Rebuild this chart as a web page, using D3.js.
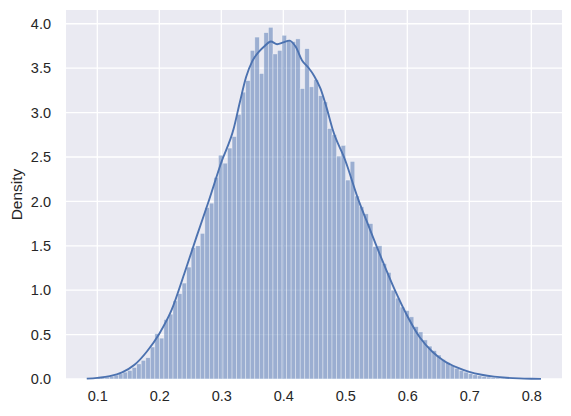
<!DOCTYPE html>
<html>
<head>
<meta charset="utf-8">
<script src="https://cdn.jsdelivr.net/npm/d3@7"></script>
<style>
  body { margin: 0; background: #fff; }
  text { font-family: "Liberation Sans", Arial, sans-serif; fill: #262626; }
</style>
</head>
<body>
<svg width="571" height="416"></svg>
<script>
// ************** Data *****************

// histogram: first bin edge, bin width, density per bin
const binStart = 0.0829;
const binWidth = 0.007327;
const densities = [
  0.003, 0.005, 0.01, 0.015, 0.022, 0.032, 0.044, 0.059, 0.077, 0.096,
  0.13, 0.17, 0.21, 0.24, 0.36, 0.51, 0.46, 0.67, 0.73, 0.88,
  0.96, 1.08, 1.26, 1.48, 1.50, 1.64, 1.93, 1.98, 2.27, 2.52,
  2.43, 2.60, 2.73, 2.98, 3.23, 3.36, 3.70, 3.85, 3.44, 3.90,
  3.96, 3.66, 3.70, 3.87, 3.82, 3.80, 3.83, 3.27, 3.72, 3.29,
  3.37, 3.19, 3.12, 2.82, 2.75, 2.51, 2.63, 2.24, 2.45, 2.06,
  1.94, 1.86, 1.75, 1.49, 1.50, 1.30, 1.20, 1.00, 0.91, 0.81,
  0.77, 0.70, 0.59, 0.53, 0.44, 0.37, 0.32, 0.27, 0.22, 0.185,
  0.15, 0.12, 0.096, 0.077, 0.06, 0.047, 0.036, 0.028, 0.022, 0.017,
  0.013, 0.01, 0.008, 0.006, 0.005, 0.004, 0.003, 0.002, 0.002, 0.001
];

// kde curve
const kdeX = [0.083, 0.10, 0.12, 0.14, 0.16, 0.18, 0.20, 0.22, 0.24, 0.26,
  0.28, 0.30, 0.32, 0.33, 0.34, 0.35, 0.36, 0.37, 0.38, 0.39,
  0.40, 0.41, 0.42, 0.43, 0.44, 0.45, 0.46, 0.47, 0.48, 0.50,
  0.52, 0.54, 0.56, 0.58, 0.60, 0.62, 0.64, 0.66, 0.68, 0.70,
  0.72, 0.74, 0.76, 0.78, 0.80, 0.8156];
const kdeY = [0.004, 0.013, 0.032, 0.075, 0.16, 0.31, 0.51, 0.78, 1.18, 1.60,
  2.01, 2.44, 2.82, 3.12, 3.40, 3.58, 3.68, 3.75, 3.80, 3.77,
  3.79, 3.81, 3.74, 3.59, 3.51, 3.41, 3.27, 3.05, 2.80, 2.46,
  2.04, 1.68, 1.33, 1.00, 0.71, 0.47, 0.31, 0.20, 0.13, 0.08,
  0.048, 0.027, 0.014, 0.007, 0.003, 0.001];

const xTicks = [0.1, 0.2, 0.3, 0.4, 0.5, 0.6, 0.7, 0.8];
const yTicks = [0, 0.5, 1, 1.5, 2, 2.5, 3, 3.5, 4];

// *************** Graph Setup *****************

let svg = d3.select("svg");

const plotLeft = 66, plotRight = 562, plotTop = 10, plotBottom = 379;

let xScale = d3.scaleLinear()
    .domain([0.0495, 0.8495])
    .range([plotLeft, plotRight]);

let yScale = d3.scaleLinear()
    .domain([0, 4.155])
    .range([plotBottom, plotTop]);

// background
svg.append("rect")
    .attr("x", plotLeft).attr("y", plotTop)
    .attr("width", plotRight - plotLeft).attr("height", plotBottom - plotTop)
    .attr("fill", "#EAEAF2");

// grid lines
svg.append("g")
    .selectAll("line").data(xTicks).enter().append("line")
    .attr("x1", d => xScale(d)).attr("x2", d => xScale(d))
    .attr("y1", plotTop).attr("y2", plotBottom)
    .attr("stroke", "#fff").attr("stroke-width", 1.3);

svg.append("g")
    .selectAll("line").data(yTicks).enter().append("line")
    .attr("x1", plotLeft).attr("x2", plotRight)
    .attr("y1", d => yScale(d)).attr("y2", d => yScale(d))
    .attr("stroke", "#fff").attr("stroke-width", 1.3);

// bars
svg.append("g")
    .selectAll(".bar").data(densities).enter().append("rect")
    .attr("class", "bar")
    .attr("x", (d, i) => xScale(binStart + i * binWidth))
    .attr("y", d => yScale(d))
    .attr("width", xScale(binStart + binWidth) - xScale(binStart))
    .attr("height", d => yScale(0) - yScale(d))
    .attr("fill", "#4C72B0").attr("fill-opacity", 0.5)
    .attr("stroke", "#fff").attr("stroke-opacity", 0.5).attr("stroke-width", 0.7);

// kde line
let line = d3.line()
    .x(d => xScale(d[0]))
    .y(d => yScale(d[1]))
    .curve(d3.curveMonotoneX);

svg.append("path")
    .datum(kdeX.map((v, i) => [v, kdeY[i]]))
    .attr("d", line)
    .attr("fill", "none")
    .attr("stroke", "#4C72B0")
    .attr("stroke-width", 1.9);

// axes (no tick marks, darkgrid style)
let xAxis = svg.append("g")
    .attr("transform", "translate(0," + plotBottom + ")")
    .call(d3.axisBottom(xScale).tickValues(xTicks).tickFormat(d3.format(".1f")).tickSize(0).tickPadding(12));

let yAxis = svg.append("g")
    .attr("transform", "translate(" + plotLeft + ",0)")
    .call(d3.axisLeft(yScale).tickValues(yTicks).tickFormat(d3.format(".1f")).tickSize(0).tickPadding(15));

[xAxis, yAxis].forEach(a => {
    a.select(".domain").remove();
    a.selectAll("text").attr("font-size", 14.5).attr("fill", "#262626")
        .attr("font-family", '"Liberation Sans", Arial, sans-serif');
});

svg.append("text")
    .attr("transform", "translate(22," + ((plotTop + plotBottom) / 2) + ") rotate(-90)")
    .attr("text-anchor", "middle")
    .attr("font-size", 15.5)
    .text("Density");
</script>
</body>
</html>
